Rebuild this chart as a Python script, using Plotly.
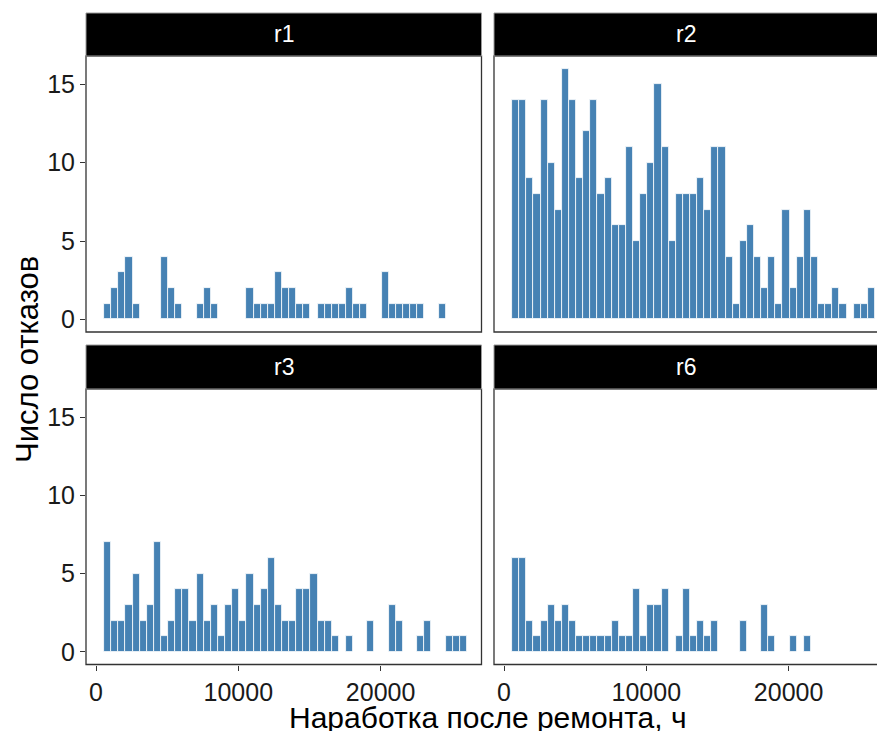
import plotly.graph_objects as go

# ---- data (counts per 500-h bin) ----
bin_start = 570          # left edge of first bin, hours
bin_width = 500          # hours
r1_counts = [1,2,3,4,1,0,0,0,4,2, 1,0,0,1,2,1,0,0,0,0, 2,1,1,1,3,2,2,1,1,0,
             1,1,1,1,2,1,1,0,0,3, 1,1,1,1,1,0,0,1,0,0,0]
r2_counts = [14,14,9,8,14,10,7,16,14,9, 12,14,8,9,6,6,11,5,8,10, 15,11,5,8,8,8,9,7,11,11,
             4,1,5,6,4,2,4,1,7,2, 4,7,4,1,1,2,1,0,1,1,2]
r3_counts = [7,2,2,3,5,2,3,7,1,2, 4,4,2,5,2,3,1,3,4,2, 5,3,4,6,3,2,2,4,4,5,
             2,2,1,0,1,0,0,2,0,0, 3,2,0,0,1,2,0,0,1,1,1]
r6_counts = [6,6,2,1,2,3,2,3,2,1, 1,1,1,1,2,1,1,4,1,3, 3,4,0,1,4,1,2,1,2,0,
             0,0,2,0,0,3,1,0,0,1, 0,1,0,0,0,0,0,0,0,0,0]
panels = ["r1", "r2", "r3", "r6"]
x_ticks = [0, 10000, 20000]
y_ticks = [0, 5, 10, 15]
x_title = "Наработка после ремонта, ч"
y_title = "Число отказов"

bin_centers = [bin_start + bin_width * (i + 0.5) for i in range(len(r1_counts))]
series = [r1_counts, r2_counts, r3_counts, r6_counts]

W, H = 877, 731
FONT = "Liberation Sans, Arial, sans-serif"
BAR = "#4682B4"

def px(x):
    return x / W

def py(y):
    return 1 - y / H

# panel boxes in pixels: (left, top, right, bottom)
boxes = [
    (86, 56, 481.5, 332),
    (494, 56, 889.5, 332),
    (86, 389, 481.5, 664.5),
    (494, 389, 889.5, 664.5),
]
strip_h = [(13, 56), (13, 56), (345, 389), (345, 389)]
x_zero = [96, 504, 96, 504]
px_per_unit = 142.3 / 10000
y_range = [-0.8, 16.8]

fig = go.Figure()
for i, (name, counts) in enumerate(zip(panels, series)):
    sfx = "" if i == 0 else str(i + 1)
    fig.add_trace(go.Bar(
        x=bin_centers, y=counts, width=bin_width,
        marker=dict(color=BAR, line=dict(color="white", width=0.8)),
        xaxis="x" + sfx, yaxis="y" + sfx, showlegend=False,
        hoverinfo="x+y",
    ))

layout = dict(
    width=W, height=H, margin=dict(l=0, r=0, t=0, b=0),
    paper_bgcolor="white", plot_bgcolor="white",
    font=dict(family=FONT, color="#1a1a1a"),
    bargap=0,
)
shapes = []
annotations = []
for i, (l, t, r, b) in enumerate(boxes):
    sfx = "" if i == 0 else str(i + 1)
    r_vis = min(r, W)
    xmin = (l - x_zero[i]) / px_per_unit
    xmax = (r_vis - x_zero[i]) / px_per_unit
    bottom_row = i >= 2
    left_col = i % 2 == 0
    layout["xaxis" + sfx] = dict(
        domain=[px(l), px(r_vis)], range=[xmin, xmax], anchor="y" + sfx,
        showgrid=False, zeroline=False, showline=False,
        tickvals=x_ticks if bottom_row else [],
        ticktext=[str(v) for v in x_ticks] if bottom_row else [],
        ticks="outside" if bottom_row else "", ticklen=5, tickcolor="#333333",
        tickwidth=1, showticklabels=bottom_row,
        tickfont=dict(size=25, color="#1a1a1a", family=FONT),
    )
    layout["yaxis" + sfx] = dict(
        domain=[py(b), py(t)], range=y_range, anchor="x" + sfx,
        showgrid=False, zeroline=False, showline=False,
        tickvals=y_ticks if left_col else [],
        ticks="outside" if left_col else "", ticklen=5, tickcolor="#333333",
        tickwidth=1, showticklabels=left_col,
        tickfont=dict(size=25, color="#1a1a1a", family=FONT),
    )
    # panel border
    shapes.append(dict(type="rect", xref="paper", yref="paper",
                       x0=px(l), x1=px(r), y0=py(b), y1=py(t),
                       line=dict(color="#333333", width=1.3), fillcolor="rgba(0,0,0,0)",
                       layer="above"))
    # strip
    st, sb = strip_h[i]
    shapes.append(dict(type="rect", xref="paper", yref="paper",
                       x0=px(l), x1=px(r), y0=py(sb), y1=py(st),
                       line=dict(color="#9a9a9a", width=1), fillcolor="black",
                       layer="above"))
    annotations.append(dict(text=panels[i], xref="paper", yref="paper",
                            x=px((l + r_vis) / 2 if i % 2 == 0 else (l + 877) / 2),
                            y=py((st + sb) / 2), showarrow=False,
                            font=dict(size=23, color="white", family=FONT),
                            xanchor="center", yanchor="middle"))

annotations.append(dict(text=x_title, xref="paper", yref="paper",
                        x=px(488), y=py(717), showarrow=False,
                        font=dict(size=30, color="black", family=FONT),
                        xanchor="center", yanchor="middle"))
annotations.append(dict(text=y_title, xref="paper", yref="paper",
                        x=px(27), y=py(360), showarrow=False, textangle=-90,
                        font=dict(size=31, color="black", family=FONT),
                        xanchor="center", yanchor="middle"))
layout["shapes"] = shapes
layout["annotations"] = annotations
fig.update_layout(**layout)
fig.write_html(
    "out.html",
    config={"displayModeBar": False},
    post_script="document.body.style.margin='0px';document.body.style.overflow='hidden';",
)
